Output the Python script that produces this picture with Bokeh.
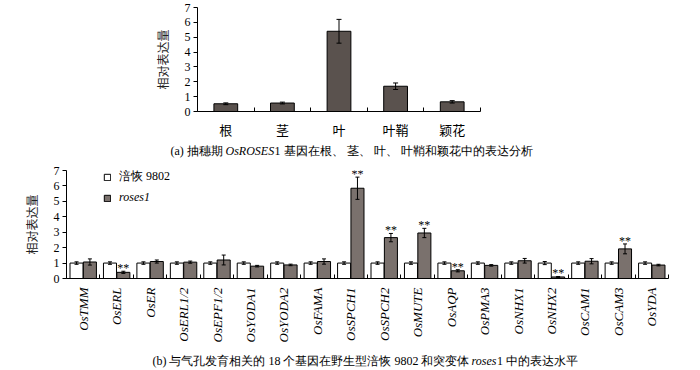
import math
from bokeh.plotting import figure
from bokeh.models import (ColumnDataSource, Range1d, FixedTicker, Whisker, TeeHead,
                          Label, Legend, LegendItem, CustomJSTickFormatter)
from bokeh.core.properties import value
from bokeh.embed import file_html
from bokeh.resources import INLINE

# ---------------- data ----------------
tissues = ["根", "茎", "叶", "叶鞘", "颖花"]
tissue_expr = [0.52, 0.57, 5.40, 1.70, 0.65]
tissue_err = [0.06, 0.06, 0.80, 0.22, 0.08]

genes = ["OsTMM", "OsERL", "OsER", "OsERL1/2", "OsEPF1/2", "OsYODA1", "OsYODA2",
         "OsFAMA", "OsSPCH1", "OsSPCH2", "OsMUTE", "OsAQP", "OsPMA3", "OsNHX1",
         "OsNHX2", "OsCAM1", "OsCAM3", "OsYDA"]
wt_expr = [1.00, 1.00, 1.00, 1.00, 1.00, 1.00, 1.00, 1.00, 1.00,
           1.00, 1.00, 1.00, 1.00, 1.00, 1.00, 1.00, 1.00, 1.00]
wt_err = [0.08, 0.08, 0.08, 0.08, 0.08, 0.08, 0.08, 0.08, 0.08,
          0.08, 0.08, 0.08, 0.08, 0.08, 0.10, 0.08, 0.08, 0.08]
mut_expr = [1.07, 0.40, 1.10, 1.06, 1.20, 0.80, 0.88, 1.10, 5.85,
            2.65, 2.95, 0.50, 0.85, 1.15, 0.10, 1.12, 1.92, 0.87]
mut_err = [0.20, 0.07, 0.10, 0.07, 0.32, 0.05, 0.05, 0.17, 0.72,
           0.27, 0.30, 0.07, 0.05, 0.15, 0.03, 0.17, 0.32, 0.05]
significant = [False, True, False, False, False, False, False, False, True,
               True, True, True, False, False, True, False, True, False]

y_ticks = [0, 1, 2, 3, 4, 5, 6, 7]

caption_a = [("(a) 抽穗期", "normal"), ("OsROSES", "italic"),
             ("1 基因在根、 茎、 叶、 叶鞘和颖花中的表达分析", "normal")]
caption_b = [("(b) 与气孔发育相关的 18 个基因在野生型涪恢 9802 和突变体", "normal"),
             ("roses", "italic"), ("1 中的表达水平", "normal")]

SERIF = "Liberation Serif"
CJK = "Noto Sans CJK SC"


def style_axes(p, label_standoff):
    p.xgrid.visible = False
    p.ygrid.visible = False
    p.outline_line_color = None
    for ax in (p.xaxis[0], p.yaxis[0]):
        ax.axis_line_color = "black"
        ax.axis_line_width = 1
        ax.major_tick_line_color = "black"
        ax.minor_tick_line_color = "black"
        ax.major_label_text_color = "black"
    ya = p.yaxis[0]
    ya.ticker = FixedTicker(ticks=y_ticks)
    ya.major_tick_in = 0
    ya.major_tick_out = 4
    ya.minor_tick_in = 0
    ya.minor_tick_out = 0
    ya.major_label_standoff = 3
    ya.major_label_text_font = SERIF
    ya.major_label_text_font_size = "12px"
    ya.axis_label = "相对表达量"
    ya.axis_label_text_font = CJK
    ya.axis_label_text_font_style = "normal"
    ya.axis_label_text_font_size = "12px"
    ya.axis_label_text_color = "#222222"
    ya.axis_label_standoff = label_standoff


def caption_fig(parts, xs, height, yc):
    c = figure(width=700, height=height, x_range=Range1d(0, 700), y_range=Range1d(0, height),
               output_backend="svg", toolbar_location=None,
               x_axis_location=None, y_axis_location=None, min_border=0)
    c.xgrid.visible = False
    c.ygrid.visible = False
    c.outline_line_color = None
    for (txt, st), xo in zip(parts, xs):
        c.add_layout(Label(x=xo, y=yc, text=txt,
                           text_font=SERIF, text_font_style=st, text_font_size="12px",
                           text_color="black", text_baseline="middle", text_align="left"))
    return c


# ---------------- figure (a) ----------------
n1 = len(tissues)
x1 = [i + 0.5 for i in range(n1)]
src1 = ColumnDataSource(dict(
    x=x1, top=tissue_expr,
    lo=[v - e for v, e in zip(tissue_expr, tissue_err)],
    hi=[v + e for v, e in zip(tissue_expr, tissue_err)],
))
p1 = figure(width=700, height=141, x_range=Range1d(0, n1), y_range=Range1d(0, 7),
            output_backend="svg", toolbar_location=None,
            min_border_left=197, min_border_right=220, min_border_top=7, min_border_bottom=26)
p1.vbar(x="x", top="top", bottom=0, width=0.42, source=src1,
        fill_color="#5a524e", line_color="black", line_width=1)
p1.add_layout(Whisker(source=src1, base="x", upper="hi", lower="lo", level="overlay",
                      line_color="black", line_width=1,
                      upper_head=TeeHead(size=5, line_color="black", line_width=1),
                      lower_head=TeeHead(size=5, line_color="black", line_width=1)))
style_axes(p1, 11)
xa1 = p1.xaxis[0]
xa1.ticker = FixedTicker(ticks=x1, minor_ticks=list(range(n1 + 1)))
xa1.formatter = CustomJSTickFormatter(args=dict(labels=tissues),
                                      code="return labels[Math.floor(tick)] || '';")
xa1.major_tick_in = 0
xa1.major_tick_out = 0
xa1.minor_tick_in = 4
xa1.minor_tick_out = 0
xa1.major_label_standoff = 8
xa1.major_label_text_font = CJK
xa1.major_label_text_font_size = "13px"

cap_a = caption_fig(caption_a, [170, 225, 274], 19, 10)

# ---------------- figure (b) ----------------
n2 = len(genes)
xc = [i + 0.5 for i in range(n2)]
src2 = ColumnDataSource(dict(
    xw=[c - 0.2 for c in xc], xm=[c + 0.2 for c in xc],
    wt=wt_expr, mt=mut_expr,
    wlo=[v - e for v, e in zip(wt_expr, wt_err)],
    whi=[v + e for v, e in zip(wt_expr, wt_err)],
    mlo=[v - e for v, e in zip(mut_expr, mut_err)],
    mhi=[v + e for v, e in zip(mut_expr, mut_err)],
))
p2 = figure(width=700, height=192, x_range=Range1d(0, n2), y_range=Range1d(0, 7),
            output_backend="svg", toolbar_location=None,
            min_border_left=66, min_border_right=32, min_border_top=10, min_border_bottom=74)
r_wt = p2.vbar(x="xw", top="wt", bottom=0, width=0.39, source=src2,
               fill_color="white", line_color="black", line_width=1)
r_mt = p2.vbar(x="xm", top="mt", bottom=0, width=0.39, source=src2,
               fill_color="#7a716d", line_color="black", line_width=1)
for b, lo, hi in (("xw", "wlo", "whi"), ("xm", "mlo", "mhi")):
    p2.add_layout(Whisker(source=src2, base=b, upper=hi, lower=lo, level="overlay",
                          line_color="black", line_width=1,
                          upper_head=TeeHead(size=4, line_color="black", line_width=1),
                          lower_head=TeeHead(size=4, line_color="black", line_width=1)))
sig_src = ColumnDataSource(dict(
    x=[c + 0.2 for c, s in zip(xc, significant) if s],
    y=[v + e for v, e, s in zip(mut_expr, mut_err, significant) if s],
    t=["**" for s in significant if s],
))
p2.text(x="x", y="y", text="t", source=sig_src, text_font=value(SERIF),
        text_font_size="12px", text_align="center", text_baseline="alphabetic",
        y_offset=-3, text_color="black")
style_axes(p2, 11)
xa2 = p2.xaxis[0]
xa2.ticker = FixedTicker(ticks=xc, minor_ticks=list(range(n2 + 1)))
xa2.formatter = CustomJSTickFormatter(args=dict(labels=genes),
                                      code="return labels[Math.floor(tick)] || '';")
xa2.major_tick_in = 0
xa2.major_tick_out = 0
xa2.minor_tick_in = 4
xa2.minor_tick_out = 0
xa2.major_label_standoff = 9
xa2.major_label_orientation = math.pi / 2
xa2.major_label_text_font = SERIF
xa2.major_label_text_font_style = "italic"
xa2.major_label_text_font_size = "13px"


def make_legend(label, renderer, loc, style):
    return Legend(items=[LegendItem(label=label, renderers=[renderer])], location=loc,
                  label_text_font=SERIF, label_text_font_style=style,
                  label_text_font_size="12px", label_text_color="black",
                  glyph_width=8, glyph_height=8, label_height=14, label_standoff=8,
                  padding=0, margin=0, spacing=0, border_line_color=None,
                  background_fill_alpha=0)


p2.add_layout(make_legend("涪恢 9802", r_wt, (37, 93), "normal"))
p2.add_layout(make_legend("roses1", r_mt, (37, 73), "italic"))

cap_b = caption_fig(caption_b, [152, 471, 496.5], 18, 10)

open("out.html", "w").write(file_html([p1, cap_a, p2, cap_b], INLINE))
